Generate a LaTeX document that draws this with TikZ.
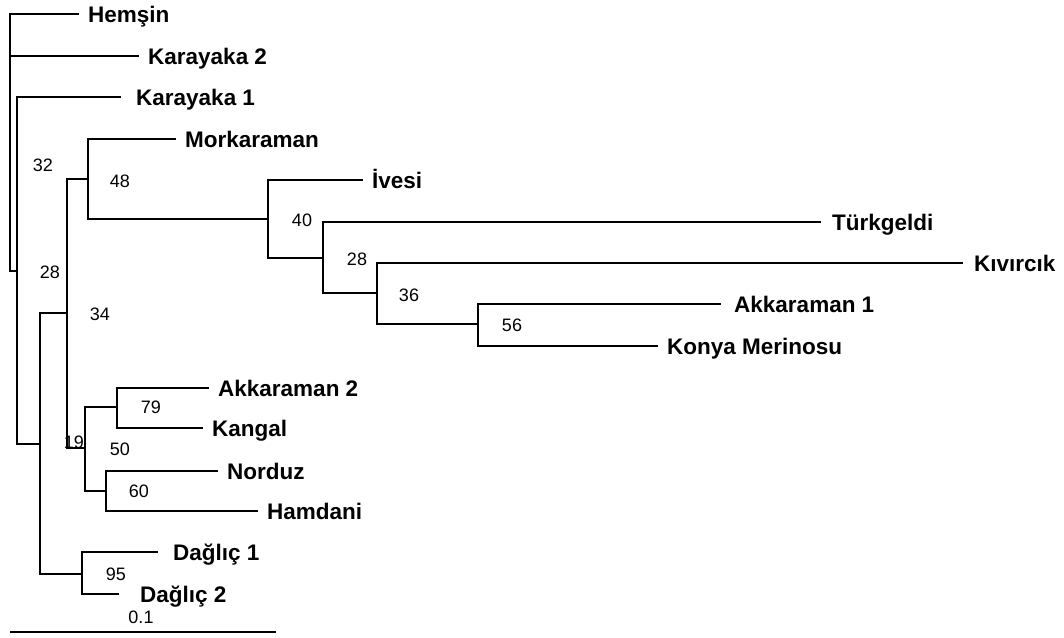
\documentclass[tikz,border=0pt]{standalone}
\usepackage{fontspec}
\setmainfont{Liberation Sans}
\usepackage{tikz}
\usetikzlibrary{positioning,calc}

\begin{document}
\begin{tikzpicture}[x=1pt, y=-1pt,
    branch/.style={line width=2.4pt, line cap=rect},
    leaf/.style={anchor=west, inner xsep=10pt, inner ysep=0pt, text height=16pt, text depth=0pt, font=\fontsize{22.5}{22.5}\selectfont\bfseries},
    boot/.style={inner sep=0pt, font=\fontsize{18}{18}\selectfont}
]
    \useasboundingbox (0,0) rectangle (1064,637);

    % Internal nodes
    \coordinate (root) at (10, 271);
    \coordinate (nA) at (17, 271);
    \coordinate (nB) at (40, 444);
    \coordinate (nC) at (67, 313);
    \coordinate (nD) at (82, 574);
    \coordinate (nE) at (88, 179);
    \coordinate (nF) at (85, 448);
    \coordinate (nG) at (268, 219);
    \coordinate (nH) at (323, 258);
    \coordinate (nI) at (377, 293);
    \coordinate (nJ) at (478, 324);
    \coordinate (nK) at (117, 407);
    \coordinate (nL) at (106, 491);

    % Leaves
    \node[leaf] (hemsin) at (78, 14) {Hemşin};
    \node[leaf] (karayaka2) at (138, 56) {Karayaka 2};
    \node[leaf, inner xsep=16pt] (karayaka1) at (120, 97) {Karayaka 1};
    \node[leaf] (morkaraman) at (175, 139) {Morkaraman};
    \node[leaf] (ivesi) at (362, 180) {İvesi};
    \node[leaf, inner xsep=12pt] (turkgeldi) at (820, 222) {Türkgeldi};
    \node[leaf, inner xsep=12pt] (kivircik) at (962, 263) {Kıvırcık};
    \node[leaf, inner xsep=14pt] (akkaraman1) at (720, 304) {Akkaraman 1};
    \node[leaf] (konya) at (657, 346) {Konya Merinosu};
    \node[leaf] (akkaraman2) at (208, 388) {Akkaraman 2};
    \node[leaf] (kangal) at (202, 428) {Kangal};
    \node[leaf] (norduz) at (217, 471) {Norduz};
    \node[leaf] (hamdani) at (257, 511) {Hamdani};
    \node[leaf, inner xsep=16pt] (daglic1) at (157, 552) {Dağlıç 1};
    \node[leaf, inner xsep=22pt] (daglic2) at (118, 594) {Dağlıç 2};

    % Branches
    \draw[branch] (root) |- (hemsin.west);
    \draw[branch] (root) |- (karayaka2.west);
    \draw[branch] (root) -- (nA);
    \draw[branch] (nA) |- (karayaka1.west);
    \draw[branch] (nA) |- (nB);
    \draw[branch] (nB) |- (nC);
    \draw[branch] (nB) |- (nD);
    \draw[branch] (nC) |- (nE);
    \draw[branch] (nC) |- (nF);
    \draw[branch] (nE) |- (morkaraman.west);
    \draw[branch] (nE) |- (nG);
    \draw[branch] (nG) |- (ivesi.west);
    \draw[branch] (nG) |- (nH);
    \draw[branch] (nH) |- (turkgeldi.west);
    \draw[branch] (nH) |- (nI);
    \draw[branch] (nI) |- (kivircik.west);
    \draw[branch] (nI) |- (nJ);
    \draw[branch] (nJ) |- (akkaraman1.west);
    \draw[branch] (nJ) |- (konya.west);
    \draw[branch] (nF) |- (nK);
    \draw[branch] (nF) |- (nL);
    \draw[branch] (nK) |- (akkaraman2.west);
    \draw[branch] (nK) |- (kangal.west);
    \draw[branch] (nL) |- (norduz.west);
    \draw[branch] (nL) |- (hamdani.west);
    \draw[branch] (nD) |- (daglic1.west);
    \draw[branch] (nD) |- (daglic2.west);

    % Bootstrap values
    \node[boot] (b32) at (43, 165) {32};
    \node[boot] (b48) at (120, 181) {48};
    \node[boot] (b28a) at (50, 272) {28};
    \node[boot] (b34) at (100, 314) {34};
    \node[boot] (b40) at (302, 220) {40};
    \node[boot] (b28b) at (357, 259) {28};
    \node[boot] (b36) at (409, 295) {36};
    \node[boot] (b56) at (512, 325) {56};
    \node[boot] (b79) at (151, 407) {79};
    \node[boot] (b19) at (74, 442) {19};
    \node[boot] (b50) at (120, 449) {50};
    \node[boot] (b60) at (139, 491) {60};
    \node[boot] (b95) at (116, 574) {95};

    % Scale bar
    \coordinate (barL) at (10, 632);
    \coordinate (barR) at (276, 632);
    \draw[line width=1.6pt] (barL) -- (barR);
    \node[boot] (barlabel) at (141, 617) {0.1};
\end{tikzpicture}
\end{document}
